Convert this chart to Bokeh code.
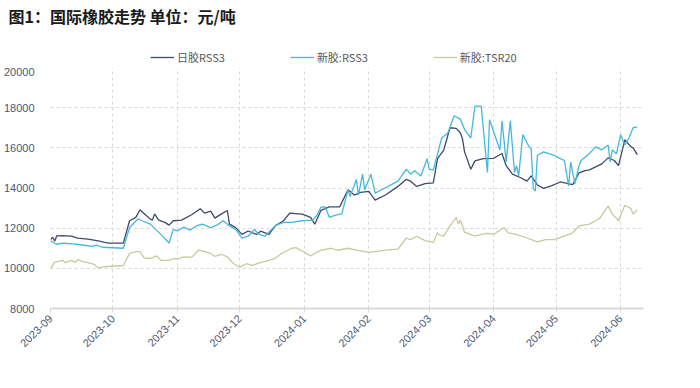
from datetime import datetime
import pandas as pd
from bokeh.plotting import figure
from bokeh.layouts import column
from bokeh.models import (Range1d, DatetimeTickFormatter, MonthsTicker, FixedTicker,
                          Legend, LegendItem, Title)
from bokeh.embed import file_html
from bokeh.resources import INLINE

# ---------------- data ----------------
jp_dates = ["2023-09-01","2023-09-02","2023-09-03","2023-09-04","2023-09-07","2023-09-11","2023-09-14",
            "2023-09-19","2023-09-24","2023-09-27","2023-09-29","2023-10-06","2023-10-09","2023-10-12",
            "2023-10-14","2023-10-17","2023-10-19","2023-10-20","2023-10-21","2023-10-23","2023-10-26",
            "2023-10-28","2023-10-30","2023-11-03","2023-11-08","2023-11-12","2023-11-14","2023-11-17",
            "2023-11-19","2023-11-22","2023-11-25","2023-11-26","2023-11-29","2023-12-02","2023-12-05",
            "2023-12-09","2023-12-11","2023-12-15","2023-12-18","2023-12-22","2023-12-25","2023-12-31",
            "2024-01-04","2024-01-06","2024-01-09","2024-01-13","2024-01-18","2024-01-22","2024-01-25",
            "2024-01-28","2024-02-01","2024-02-04","2024-02-09","2024-02-15","2024-02-19","2024-02-21",
            "2024-02-24","2024-02-28","2024-03-03","2024-03-05","2024-03-08","2024-03-11","2024-03-14",
            "2024-03-16","2024-03-17","2024-03-18","2024-03-21","2024-03-23","2024-03-27","2024-04-01",
            "2024-04-05","2024-04-07","2024-04-10","2024-04-14","2024-04-17","2024-04-19","2024-04-22",
            "2024-04-25","2024-04-29","2024-05-03","2024-05-09","2024-05-12","2024-05-15","2024-05-17",
            "2024-05-20","2024-05-23","2024-05-26","2024-05-29","2024-05-31","2024-06-03","2024-06-06",
            "2024-06-07","2024-06-09"]
jp_rss3 = [11430,11550,11350,11620,11630,11600,11500,11450,11370,11290,11255,11255,12370,12540,
           12920,12630,12450,12400,12710,12400,12290,12150,12370,12400,12680,12970,12750,12850,
           12500,12700,12880,12200,12030,11690,11860,11690,11850,11690,12120,12370,12750,12700,
           12540,12200,12890,13060,13060,13910,13650,13780,13830,13400,13650,14080,14430,14340,
           14080,14220,14260,15460,15890,17000,16970,16740,16450,15800,14930,15350,15460,15480,
           15720,15110,14690,14510,14340,14600,14150,13980,14120,14300,14170,14750,14860,14900,
           15050,15200,15500,15370,15110,16400,16050,16000,15660]

sg_dates = ["2023-09-01","2023-09-02","2023-09-04","2023-09-07","2023-09-12","2023-09-17","2023-09-21",
            "2023-09-23","2023-09-26","2023-10-06","2023-10-09","2023-10-13","2023-10-15","2023-10-19",
            "2023-10-24","2023-10-28","2023-10-30","2023-11-01","2023-11-04","2023-11-07","2023-11-10",
            "2023-11-13","2023-11-17","2023-11-20","2023-11-23","2023-11-26","2023-11-29","2023-12-02",
            "2023-12-05","2023-12-08","2023-12-10","2023-12-13","2023-12-18","2023-12-22","2023-12-26",
            "2023-12-31","2024-01-05","2024-01-07","2024-01-09","2024-01-11","2024-01-13","2024-01-16",
            "2024-01-19","2024-01-22","2024-01-23","2024-01-26","2024-01-27","2024-01-29","2024-01-30",
            "2024-02-02","2024-02-04","2024-02-15","2024-02-19","2024-02-21","2024-02-23","2024-02-26",
            "2024-02-29","2024-03-01","2024-03-03","2024-03-07","2024-03-10","2024-03-13","2024-03-16",
            "2024-03-18","2024-03-21","2024-03-23","2024-03-26","2024-03-29","2024-03-30","2024-04-04",
            "2024-04-05","2024-04-07","2024-04-09","2024-04-11","2024-04-12","2024-04-13","2024-04-15",
            "2024-04-18","2024-04-19","2024-04-20","2024-04-21","2024-04-22","2024-04-25","2024-04-30",
            "2024-05-03","2024-05-05","2024-05-07","2024-05-08","2024-05-10","2024-05-12","2024-05-13",
            "2024-05-17","2024-05-20","2024-05-23","2024-05-26","2024-05-27","2024-05-28","2024-05-30",
            "2024-06-01","2024-06-03","2024-06-05","2024-06-07","2024-06-09"]
sg_rss3 = [11380,11300,11200,11250,11220,11150,11090,11150,11050,11000,12030,12460,12370,12200,
           11690,11260,11940,11860,12060,11900,12110,12200,12030,12150,12370,12110,11940,11510,
           11600,11940,11700,11600,12120,12290,12290,12370,12400,12630,13050,13060,12540,12650,
           12710,13910,13570,14430,13650,14690,13910,14690,13740,14340,14940,14690,14860,14600,
           15460,14940,14900,16490,16740,17600,17430,16910,16490,18080,18080,14770,17400,15890,
           17340,15300,17340,14770,15110,14600,16660,16050,15970,14000,13850,15630,15800,15630,
           15460,15370,14100,15290,14200,15100,15370,15720,16050,15900,16140,15300,15900,15700,
           16660,16140,16490,17000,17040]

tsr_dates = ["2023-09-01","2023-09-03","2023-09-07","2023-09-08","2023-09-11","2023-09-13","2023-09-14",
             "2023-09-17","2023-09-19","2023-09-22","2023-09-24","2023-09-27","2023-10-06","2023-10-09",
             "2023-10-12","2023-10-14","2023-10-16","2023-10-19","2023-10-22","2023-10-24","2023-10-28",
             "2023-10-30","2023-11-01","2023-11-04","2023-11-08","2023-11-11","2023-11-14","2023-11-17",
             "2023-11-19","2023-11-22","2023-11-25","2023-11-28","2023-12-01","2023-12-04","2023-12-07",
             "2023-12-10","2023-12-15","2023-12-18","2023-12-21","2023-12-26","2023-12-28","2023-12-31",
             "2024-01-04","2024-01-06","2024-01-09","2024-01-14","2024-01-17","2024-01-22","2024-01-26",
             "2024-02-01","2024-02-09","2024-02-15","2024-02-19","2024-02-21","2024-02-24","2024-02-28",
             "2024-03-03","2024-03-05","2024-03-06","2024-03-08","2024-03-11","2024-03-14","2024-03-15",
             "2024-03-16","2024-03-18","2024-03-23","2024-03-26","2024-03-29","2024-04-01","2024-04-06",
             "2024-04-08","2024-04-12","2024-04-17","2024-04-22","2024-04-26","2024-04-30","2024-05-05",
             "2024-05-09","2024-05-12","2024-05-17","2024-05-20","2024-05-22","2024-05-24","2024-05-26",
             "2024-05-28","2024-05-31","2024-06-03","2024-06-06","2024-06-07","2024-06-09"]
sg_tsr20 = [9970,10310,10400,10280,10400,10300,10430,10320,10280,10200,10010,10080,10140,10740,
            10830,10830,10520,10490,10620,10400,10400,10490,10460,10570,10560,10910,10830,10740,
            10600,10700,10570,10230,10060,10230,10150,10260,10400,10490,10740,11000,11030,10860,
            10620,10740,10910,11000,10900,11000,10910,10790,10910,10960,11510,11430,11600,11380,
            11290,11770,11650,11600,12110,12540,12200,12400,11800,11600,11690,11740,11700,12030,
            11770,11690,11510,11320,11430,11430,11600,11770,12110,12200,12370,12500,12800,13100,
            12710,12370,13140,12970,12710,12900]

series_names = ["日胶RSS3", "新胶:RSS3", "新胶:TSR20"]
series_colors = ["#3e4a6c", "#45b8dd", "#c9c99d"]
y_ticks = [8000, 10000, 12000, 14000, 16000, 18000, 20000]

# ---------------- header (title + legend) ----------------
head = figure(width=684, height=67, output_backend="svg", toolbar_location=None,
              x_range=Range1d(0, 1), y_range=Range1d(0, 1),
              x_axis_type=None, y_axis_type=None,
              min_border_left=0, min_border_right=0, min_border_top=0, min_border_bottom=0)
head.grid.visible = False
head.outline_line_color = None
head.title = Title(text="图1：国际橡胶走势 单位：元/吨", text_font="Noto Sans CJK SC",
                   text_font_size="16px", text_font_style="bold", text_color="#1a1a1a",
                   offset=-42, standoff=2)

# legend-only renderers (no visible data)
nan = float("nan")
lr = [head.line(x=[nan, nan], y=[nan, nan], color=c, line_width=1.3) for c in series_colors]
legend = Legend(items=[LegendItem(label=n, renderers=[r]) for n, r in zip(series_names, lr)],
                orientation="horizontal", location=(100, 2),
                label_text_font="Noto Sans CJK SC", label_text_font_size="11px",
                label_text_color="#595959", glyph_width=24, glyph_height=10,
                label_standoff=3, spacing=65, padding=0, margin=0,
                border_line_color=None, background_fill_alpha=0)
head.add_layout(legend, "center")

# ---------------- main chart ----------------
p = figure(width=684, height=305, output_backend="svg", toolbar_location=None,
           x_axis_type="datetime",
           x_range=Range1d(datetime(2023, 9, 1), datetime(2024, 6, 12)),
           y_range=Range1d(8000, 20000),
           min_border_left=44, min_border_right=41, min_border_top=0, min_border_bottom=64)

p.line(pd.to_datetime(jp_dates), jp_rss3, color=series_colors[0], line_width=1.3)
p.line(pd.to_datetime(sg_dates), sg_rss3, color=series_colors[1], line_width=1.3)
p.line(pd.to_datetime(tsr_dates), sg_tsr20, color=series_colors[2], line_width=1.3)

p.xaxis.ticker = MonthsTicker(months=list(range(12)))
p.xaxis.formatter = DatetimeTickFormatter(months="%Y-%m", days="%Y-%m")
p.xaxis.major_label_orientation = 0.785
p.yaxis.ticker = FixedTicker(ticks=y_ticks)

for ax in (p.xaxis, p.yaxis):
    ax.major_label_text_font = "Liberation Sans"
    ax.major_label_text_font_size = "11px"
    ax.major_label_text_color = "#4b5878"
    ax.minor_tick_line_color = None

p.xaxis.axis_line_color = "#d9d9d9"
p.xaxis.axis_line_width = 2
p.xaxis.major_tick_line_color = "#d9d9d9"
p.xaxis.major_tick_out = 4
p.xaxis.major_tick_in = 0
p.xaxis.major_label_standoff = 4
p.yaxis.axis_line_color = None
p.yaxis.major_tick_line_color = None
p.yaxis.major_label_standoff = 10

p.grid.grid_line_color = "#d9d9d9"
p.grid.grid_line_dash = "3 3"
p.outline_line_color = None

layout = column(head, p, spacing=0)
open("out.html", "w").write(file_html(layout, INLINE))
